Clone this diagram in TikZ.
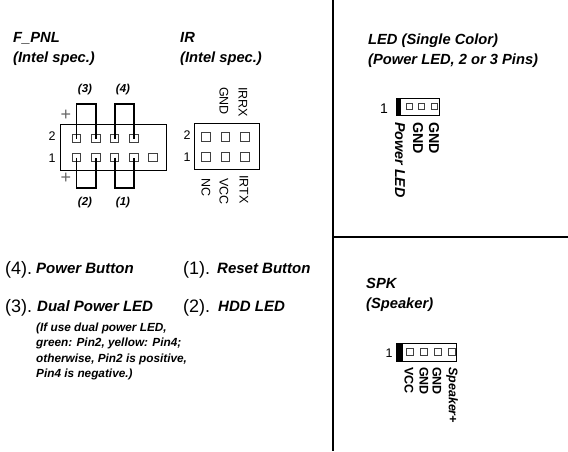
\documentclass[tikz,border=0pt]{standalone}
\usepackage{fontspec}
\setmainfont{Liberation Sans}
\usetikzlibrary{positioning, calc}
\tikzset{
    title_txt/.style = {inner sep=0pt, anchor=north west, align=left, font=\bfseries\itshape\fontsize{14.7}{19.5}\selectfont},
    item_txt/.style = {inner sep=0pt, anchor=west, font=\bfseries\itshape\fontsize{15}{16}\selectfont},
    num_txt/.style = {inner sep=0pt, anchor=west, font=\fontsize{18}{18}\selectfont},
    note_txt/.style = {inner sep=0pt, anchor=north west, align=left, font=\bfseries\itshape\fontsize{11.8}{15.2}\selectfont},
    jump_txt/.style = {inner sep=0pt, font=\bfseries\itshape\fontsize{11.5}{12}\selectfont},
    side_txt/.style = {inner sep=0pt, font=\fontsize{12.5}{13}\selectfont},
    plus_txt/.style = {inner sep=0pt, text=black!60, font=\fontsize{18}{18}\selectfont},
    pin_txt/.style = {inner sep=0pt, rotate=-90, anchor=west, font=\fontsize{12.5}{13}\selectfont},
    pinb_txt/.style = {pin_txt, font=\bfseries\fontsize{14.3}{15}\selectfont},
    pini_txt/.style = {pin_txt, font=\bfseries\itshape\fontsize{14.3}{15}\selectfont},
    hdr_box/.style = {draw=black, line width=0.8pt, inner sep=0pt},
    hdr_bar/.style = {fill=black, inner sep=0pt},
    big_pin/.style = {draw=black!75, line width=0.8pt, inner sep=0pt, minimum size=8.5pt},
    small_pin/.style = {draw=black!75, line width=0.8pt, inner sep=0pt, minimum size=6pt},
    jumper/.style = {draw=black, line width=1.8pt, line join=miter},
    divider/.style = {draw=black, line width=2pt},
}
\begin{document}
\begin{tikzpicture}[x=1pt,y=-1pt]
        \useasboundingbox (0,0) rectangle (568,451);
        % dividers
        \coordinate (div_top) at (333,0);
        \coordinate (div_bot) at (333,451);
        \coordinate (div_mid) at (333,237);
        \coordinate (div_end) at (568,237);
        \draw [divider] (div_top) -- (div_bot);
        \draw [divider] (div_mid) -- (div_end);

        % F_PNL
        \node [title_txt] (fpnl_title) at (13,32.5) {F\_PNL\\(Intel spec.)};
        \node [hdr_box, minimum width=106pt, minimum height=46pt] (fpnl_box) at (113.5,147) {};
        \node [big_pin] (f_a2) at (76.5,138.5) {};
        \node [big_pin, right=10pt of f_a2] (f_b2) {};
        \node [big_pin, right=9.5pt of f_b2] (f_c2) {};
        \node [big_pin, right=10pt of f_c2] (f_d2) {};
        \node [big_pin] (f_a1) at (76.5,157.5) {};
        \node [big_pin, right=10pt of f_a1] (f_b1) {};
        \node [big_pin, right=9.5pt of f_b1] (f_c1) {};
        \node [big_pin, right=10pt of f_c1] (f_d1) {};
        \node [big_pin, right=9.5pt of f_d1] (f_e1) {};
        \node [side_txt] (f_two) at (52,136) {2};
        \node [side_txt] (f_one) at (52,158) {1};
        \node [plus_txt] (f_plus_up) at (66,115) {+};
        \node [plus_txt] (f_plus_dn) at (66,178) {+};
        \coordinate (j3_top) at (76,104);
        \coordinate (j4_top) at (113,104);
        \coordinate (j2_bot) at (77,188);
        \coordinate (j1_bot) at (113,188);
        \draw [jumper] (f_a2.center) -- (f_a2 |- j3_top) -| (f_b2.center);
        \draw [jumper] (f_c2.center) -- (f_c2 |- j4_top) -| (f_d2.center);
        \draw [jumper] (f_a1.center) -- (f_a1 |- j2_bot) -| (f_b1.center);
        \draw [jumper] (f_c1.center) -- (f_c1 |- j1_bot) -| (f_d1.center);
        \node [jump_txt] (j3_txt) at (85,90) {(3)};
        \node [jump_txt] (j4_txt) at (123,90) {(4)};
        \node [jump_txt] (j2_txt) at (85,203) {(2)};
        \node [jump_txt] (j1_txt) at (123,203) {(1)};

        % IR
        \node [title_txt] (ir_title) at (180,32.5) {IR\\(Intel spec.)};
        \node [hdr_box, minimum width=65pt, minimum height=46pt] (ir_box) at (227,146) {};
        \node [big_pin] (i_a2) at (206,137) {};
        \node [big_pin, right=10pt of i_a2] (i_b2) {};
        \node [big_pin, right=10.5pt of i_b2] (i_c2) {};
        \node [big_pin] (i_a1) at (206,157) {};
        \node [big_pin, right=10pt of i_a1] (i_b1) {};
        \node [big_pin, right=10.5pt of i_b1] (i_c1) {};
        \node [side_txt] (i_two) at (187,135) {2};
        \node [side_txt] (i_one) at (187,157) {1};
        \node [pin_txt] (i_gnd) at (224,87) {GND};
        \node [pin_txt] (i_rx) at (243,87) {IRRX};
        \node [pin_txt] (i_nc) at (206,178) {NC};
        \node [pin_txt] (i_vcc) at (224,178) {VCC};
        \node [pin_txt] (i_tx) at (244,175) {IRTX};

        % LED
        \node [title_txt] (led_title) at (368,34) {LED (Single Color)\\(Power LED, 2 or 3 Pins)};
        \node [hdr_box, minimum width=43pt, minimum height=17pt] (led_box) at (417.5,106.5) {};
        \node [hdr_bar, minimum width=5pt, minimum height=17pt, anchor=west] (led_bar) at (led_box.west) {};
        \node [small_pin] (l_a) at (409,106.5) {};
        \node [small_pin, right=6pt of l_a] (l_b) {};
        \node [small_pin, right=6pt of l_b] (l_c) {};
        \node [side_txt, font=\fontsize{14}{14}\selectfont] (l_one) at (384,109) {1};
        \node [pini_txt] (l_pwr) at (400,122) {Power LED};
        \node [pinb_txt] (l_gnd_a) at (418,122) {GND};
        \node [pinb_txt] (l_gnd_b) at (434,122) {GND};

        % SPK
        \node [title_txt] (spk_title) at (366,278.5) {SPK\\(Speaker)};
        \node [hdr_box, minimum width=60pt, minimum height=18pt] (spk_box) at (426,352) {};
        \node [hdr_bar, minimum width=7pt, minimum height=18pt, anchor=west] (spk_bar) at (spk_box.west) {};
        \node [small_pin, minimum size=7pt] (s_a) at (410,352) {};
        \node [small_pin, minimum size=7pt, right=6pt of s_a] (s_b) {};
        \node [small_pin, minimum size=7pt, right=6pt of s_b] (s_c) {};
        \node [small_pin, minimum size=7pt, right=6pt of s_c] (s_d) {};
        \node [side_txt] (s_one) at (389,353) {1};
        \node [pinb_txt, font=\bfseries\fontsize{12.5}{13}\selectfont] (s_vcc) at (409,367) {VCC};
        \node [pinb_txt, font=\bfseries\fontsize{12.5}{13}\selectfont] (s_gnd_a) at (424,367) {GND};
        \node [pinb_txt, font=\bfseries\fontsize{12.5}{13}\selectfont] (s_gnd_b) at (437,367) {GND};
        \node [pini_txt, font=\bfseries\itshape\fontsize{12.5}{13}\selectfont] (s_spk) at (452,367) {Speaker+};

        % list of connections
        \node [num_txt] (n4) at (5,270) {(4).};
        \node [item_txt] (n4_txt) at (36,268) {Power Button};
        \node [num_txt] (n1) at (183,270) {(1).};
        \node [item_txt] (n1_txt) at (217,268) {Reset Button};
        \node [num_txt] (n3) at (5,308) {(3).};
        \node [item_txt] (n3_txt) at (37,306) {Dual Power LED};
        \node [num_txt] (n2) at (183,308) {(2).};
        \node [item_txt] (n2_txt) at (218,306) {HDD LED};
        \node [note_txt] (note) at (36,323) {(If use dual power LED,\\green: Pin2, yellow: Pin4;\\otherwise, Pin2 is positive,\\Pin4 is negative.)};
\end{tikzpicture}
\end{document}
